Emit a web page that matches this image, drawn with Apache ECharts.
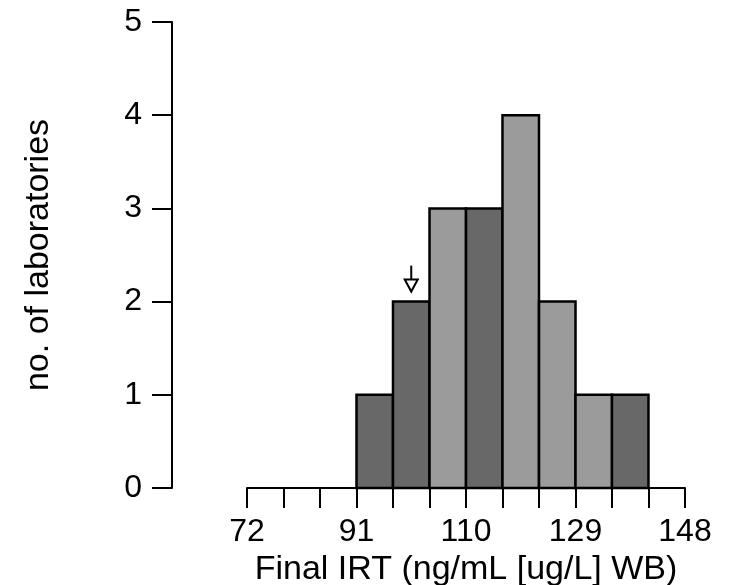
<!DOCTYPE html>
<html>
<head>
<meta charset="utf-8">
<script src="https://cdn.jsdelivr.net/npm/echarts@6/dist/echarts.min.js"></script>
<style>
html,body{margin:0;padding:0;background:#fff;}
#chart{width:730px;height:585px;}
</style>
</head>
<body>
<div id="chart"></div>
<script>
// ---- data ----
const xMin = 72;
const xMax = 148;
const binCount = 12;
const xTickLabels = ['72', '91', '110', '129', '148'];
const binStart = [91, 97.33, 103.67, 110, 116.33, 122.67, 129, 135.33];
const labCounts = [1, 2, 3, 3, 4, 2, 1, 1];
const binShade = ['dark', 'dark', 'light', 'dark', 'light', 'light', 'light', 'dark'];
const arrowValue = 100.5;
const arrowCount = 2;
const yTicks = [0, 1, 2, 3, 4, 5];
const xTitle = 'Final IRT (ng/mL [ug/L] WB)';
const yTitle = 'no. of laboratories';

const binWidth = (xMax - xMin) / binCount;
const toUnit = v => (v - xMin) / binWidth;
const shadeColor = { dark: '#686868', light: '#9b9b9b' };
const FONT = "'Liberation Sans', Arial, sans-serif";

const barData = binStart.map((s, i) => [toUnit(s), toUnit(s + binWidth), labCounts[i], binShade[i]]);

const chart = echarts.init(document.getElementById('chart'));
chart.setOption({
  animation: false,
  backgroundColor: '#fff',
  grid: { left: 247, right: 45, top: 22, bottom: 97, containLabel: false, outerBoundsMode: 'none' },
  xAxis: {
    type: 'value', min: 0, max: binCount, interval: 1,
    name: xTitle, nameLocation: 'middle', nameGap: 62,
    nameTextStyle: { fontSize: 34, color: '#000', fontFamily: FONT },
    axisLine: { show: true, onZero: false, lineStyle: { color: '#000', width: 2 } },
    axisTick: { show: true, inside: false, length: 20, lineStyle: { color: '#000', width: 2 } },
    axisLabel: {
      fontSize: 32, color: '#000', fontFamily: FONT, margin: 28,
      formatter: v => (Math.round(v) % 3 === 0 ? xTickLabels[Math.round(v) / 3] : '')
    },
    splitLine: { show: false }
  },
  yAxis: {
    type: 'value', min: yTicks[0], max: yTicks[yTicks.length - 1], interval: 1,
    offset: 75,
    name: yTitle, nameLocation: 'middle', nameGap: 116, nameRotate: 90,
    nameTextStyle: { fontSize: 34, color: '#000', fontFamily: FONT },
    axisLine: { show: true, onZero: false, lineStyle: { color: '#000', width: 2 } },
    axisTick: { show: true, inside: false, length: 20, lineStyle: { color: '#000', width: 2 } },
    axisLabel: { fontSize: 32, color: '#000', fontFamily: FONT, margin: 30 },
    splitLine: { show: false }
  },
  series: [
    {
      type: 'custom',
      data: barData,
      renderItem: (params, api) => {
        const p0 = api.coord([api.value(0), api.value(2)]);
        const p1 = api.coord([api.value(1), 0]);
        const shade = barData[params.dataIndex][3];
        return {
          type: 'rect',
          shape: { x: p0[0], y: p0[1], width: p1[0] - p0[0], height: p1[1] - p0[1] },
          style: { fill: shadeColor[shade], stroke: '#000', lineWidth: 2.5 }
        };
      },
      z: 3
    },
    {
      type: 'custom',
      data: [[toUnit(arrowValue), arrowCount]],
      renderItem: (params, api) => {
        const p = api.coord([api.value(0), api.value(1)]);
        const x = p[0], y = p[1];
        return {
          type: 'group',
          children: [
            { type: 'line', shape: { x1: x, y1: y - 36, x2: x, y2: y - 22 }, style: { stroke: '#000', lineWidth: 2 } },
            { type: 'polygon', shape: { points: [[x - 6.5, y - 22], [x + 6.5, y - 22], [x, y - 10]] }, style: { fill: '#fff', stroke: '#000', lineWidth: 2 } }
          ]
        };
      },
      z: 4
    }
  ]
});
</script>
</body>
</html>
